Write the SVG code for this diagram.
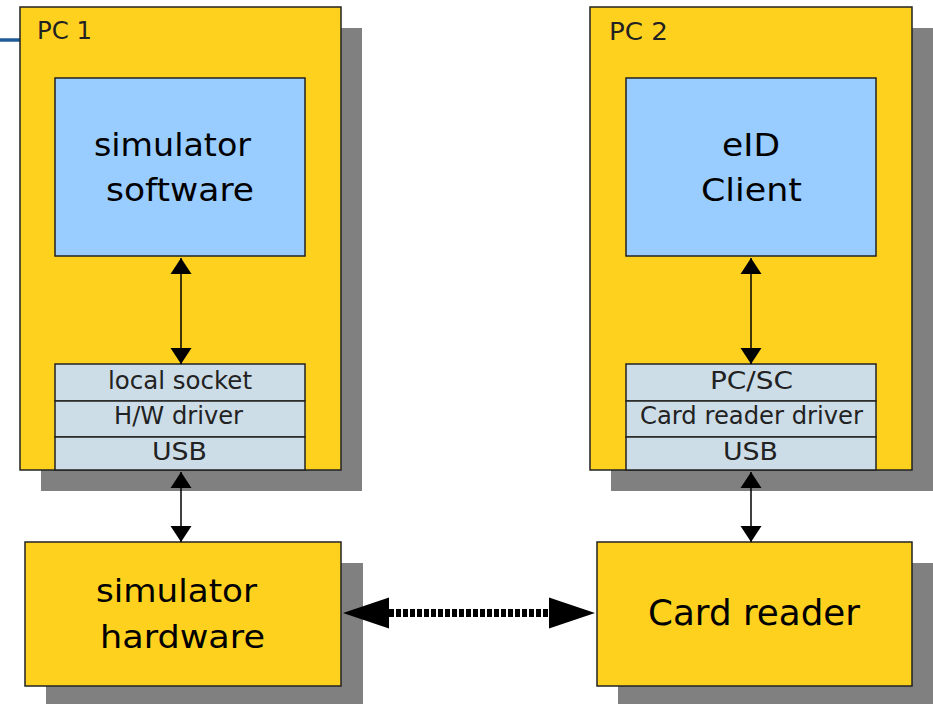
<svg xmlns="http://www.w3.org/2000/svg" width="933" height="704" viewBox="0 0 933 704">
<style>
.shadow{fill:#808080;stroke:none}
.box{fill:#FED11F;stroke:#222;stroke-width:1.5}
.app{fill:#99CCFF;stroke:#222;stroke-width:1.5}
.layer{fill:#CCDDE8;stroke:#222;stroke-width:1.5}
.big{font-family:"DejaVu Sans","Liberation Sans",sans-serif;font-size:32px;fill:#000}
.huge{font-family:"DejaVu Sans","Liberation Sans",sans-serif;font-size:36px;fill:#000}
.small{font-family:"DejaVu Sans","Liberation Sans",sans-serif;font-size:24px;fill:#222}
.label{font-family:"DejaVu Sans","Liberation Sans",sans-serif;font-size:25px;fill:#222}
.conn{stroke:#000;stroke-width:1.5;fill:none}
.dots{stroke:#000;stroke-width:8;stroke-dasharray:5 2;fill:none}
</style>
<defs>
<marker id="arr" markerUnits="userSpaceOnUse" markerWidth="17" markerHeight="22" refX="16" refY="10.5" orient="auto-start-reverse" overflow="visible">
<path d="M0,0 L16,10.5 L0,21 z" fill="#000"/>
</marker>
<marker id="bigarr" markerUnits="userSpaceOnUse" markerWidth="47" markerHeight="32" refX="0" refY="15.5" orient="auto-start-reverse" overflow="visible">
<path d="M0,0 L46,15.5 L0,31 z" fill="#000"/>
</marker>
</defs>
<rect x="0" y="0" width="933" height="704" fill="#fff"/>
<line x1="0" y1="40" x2="20" y2="40" stroke="#1F5C99" stroke-width="3.5"/>

<g id="pc1">
<rect class="shadow" x="41" y="28" width="321" height="463"/>
<rect class="box" x="20" y="7" width="321" height="463"/>
<text class="label" x="37" y="39" textLength="55" lengthAdjust="spacingAndGlyphs">PC 1</text>
</g>
<g id="simulator-software">
<rect class="app" x="55" y="78" width="250" height="178"/>
<text class="big" x="94" y="156" textLength="157" lengthAdjust="spacingAndGlyphs">simulator</text>
<text class="big" x="106" y="201" textLength="148" lengthAdjust="spacingAndGlyphs">software</text>
</g>
<g id="pc1-stack">
<rect class="layer" x="55" y="364" width="250" height="37"/>
<rect class="layer" x="55" y="401" width="250" height="36"/>
<rect class="layer" x="55" y="437" width="250" height="33"/>
<text class="small" x="108" y="389" textLength="144" lengthAdjust="spacingAndGlyphs">local socket</text>
<text class="small" x="114" y="424" textLength="129" lengthAdjust="spacingAndGlyphs">H/W driver</text>
<text class="small" x="152" y="460" textLength="55" lengthAdjust="spacingAndGlyphs">USB</text>
</g>

<g id="pc2">
<rect class="shadow" x="611" y="28" width="322" height="463"/>
<rect class="box" x="590" y="7" width="322" height="463"/>
<text class="label" x="609" y="40" textLength="59" lengthAdjust="spacingAndGlyphs">PC 2</text>
</g>
<g id="eid-client">
<rect class="app" x="626" y="78" width="250" height="178"/>
<text class="big" x="722" y="156" textLength="58" lengthAdjust="spacingAndGlyphs">eID</text>
<text class="big" x="701" y="201" textLength="101" lengthAdjust="spacingAndGlyphs">Client</text>
</g>
<g id="pc2-stack">
<rect class="layer" x="626" y="364" width="250" height="37"/>
<rect class="layer" x="626" y="401" width="250" height="36"/>
<rect class="layer" x="626" y="437" width="250" height="33"/>
<text class="small" x="710" y="389" textLength="83" lengthAdjust="spacingAndGlyphs">PC/SC</text>
<text class="small" x="640" y="424" textLength="223" lengthAdjust="spacingAndGlyphs">Card reader driver</text>
<text class="small" x="723" y="460" textLength="55" lengthAdjust="spacingAndGlyphs">USB</text>
</g>

<g id="simulator-hardware">
<rect class="shadow" x="46" y="563" width="317" height="141"/>
<rect class="box" x="25" y="542" width="316" height="144"/>
<text class="big" x="96" y="602" textLength="161" lengthAdjust="spacingAndGlyphs">simulator</text>
<text class="big" x="100" y="648" textLength="165" lengthAdjust="spacingAndGlyphs">hardware</text>
</g>

<g id="card-reader">
<rect class="shadow" x="618" y="563" width="315" height="141"/>
<rect class="box" x="597" y="542" width="315" height="144"/>
<text class="huge" x="648" y="625" textLength="212" lengthAdjust="spacingAndGlyphs">Card reader</text>
</g>

<g id="connectors">
<line class="conn" x1="181" y1="258" x2="181" y2="364" marker-start="url(#arr)" marker-end="url(#arr)"/>
<line class="conn" x1="181" y1="472" x2="181" y2="542" marker-start="url(#arr)" marker-end="url(#arr)"/>
<line class="conn" x1="751" y1="258" x2="751" y2="364" marker-start="url(#arr)" marker-end="url(#arr)"/>
<line class="conn" x1="751" y1="472" x2="751" y2="542" marker-start="url(#arr)" marker-end="url(#arr)"/>
<line class="dots" x1="389" y1="613" x2="549" y2="613" marker-start="url(#bigarr)" marker-end="url(#bigarr)"/>
</g>
</svg>
